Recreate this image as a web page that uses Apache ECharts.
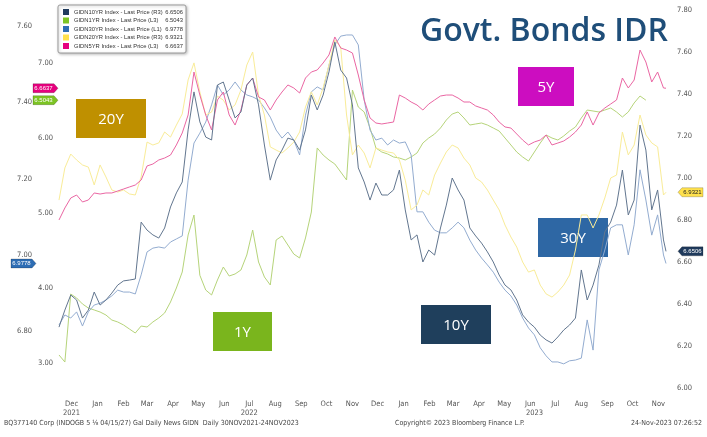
<!DOCTYPE html>
<html>
<head>
<meta charset="utf-8">
<script src="https://cdn.jsdelivr.net/npm/echarts@6/dist/echarts.min.js"></script>
<style>
  html, body { margin: 0; padding: 0; background: #fff; }
  #chart { width: 707px; height: 437px; }
</style>
</head>
<body>
<div id="chart"></div>
<script>
// weekly closes, 30 Nov 2021 -> 24 Nov 2023
const startDate = Date.UTC(2021, 10, 30);
const endDate = Date.UTC(2023, 10, 24);
const dates = [];
for (let i = 0; i < 104; i++) dates.push(startDate + i * 7 * 86400000);
dates.push(endDate);

const gidn10 = [6.290, 6.371, 6.443, 6.419, 6.333, 6.371, 6.457, 6.395, 6.419, 6.452,
  6.490, 6.510, 6.514, 6.519, 6.790, 6.752, 6.729, 6.714, 6.762, 6.862,
  6.929, 6.981, 7.229, 7.410, 7.267, 7.195, 7.181, 7.443, 7.457, 7.371,
  7.286, 7.314, 7.443, 7.476, 7.348, 7.157, 6.990, 7.086, 7.133, 7.190,
  7.181, 7.133, 7.229, 7.395, 7.324, 7.395, 7.505, 7.648, 7.514, 7.476,
  7.348, 7.048, 6.981, 6.895, 6.976, 6.919, 6.919, 6.943, 7.038, 6.848,
  6.705, 6.729, 6.600, 6.657, 6.633, 6.762, 6.871, 7.000, 6.943, 6.895,
  6.762, 6.724, 6.690, 6.648, 6.600, 6.538, 6.490, 6.467, 6.419, 6.348,
  6.314, 6.290, 6.252, 6.229, 6.214, 6.243, 6.276, 6.300, 6.333, 6.562,
  6.419, 6.490, 6.586, 6.743, 6.790, 6.871, 7.038, 6.824, 6.895, 7.252,
  7.133, 6.848, 6.943, 6.705, 6.6506];

const gidn1 = [3.107, 3.013, 3.920, 3.867, 3.787, 3.733, 3.707, 3.680, 3.640, 3.573,
  3.547, 3.507, 3.453, 3.400, 3.493, 3.480, 3.547, 3.600, 3.667, 3.813,
  4.000, 4.213, 4.707, 4.973, 4.170, 3.973, 3.907, 4.107, 4.280, 4.160,
  4.187, 4.240, 4.440, 4.773, 4.347, 4.147, 4.040, 4.640, 4.693, 4.573,
  4.453, 4.400, 4.667, 5.013, 5.867, 5.773, 5.707, 5.653, 5.547, 5.440,
  6.640, 6.413, 6.347, 6.133, 5.867, 5.813, 5.787, 5.747, 5.733, 5.707,
  5.747, 5.800, 5.933, 6.000, 6.053, 6.133, 6.240, 6.320, 6.347, 6.267,
  6.173, 6.187, 6.200, 6.173, 6.133, 6.093, 6.000, 5.907, 5.813, 5.747,
  5.693, 5.813, 5.933, 6.040, 6.000, 5.973, 6.027, 6.093, 6.147, 6.267,
  6.373, 6.360, 6.347, 6.373, 6.400, 6.347, 6.280, 6.347, 6.467, 6.560,
  6.5043, null, null, null, null];

const gidn30 = [6.817, 6.843, 6.835, 6.851, 6.814, 6.851, 6.869, 6.874, 6.882, 6.893,
  6.908, 6.903, 6.903, 6.898, 6.948, 7.008, 7.018, 7.021, 7.018, 7.034,
  7.042, 7.050, 7.196, 7.293, 7.319, 7.348, 7.393, 7.445, 7.419, 7.432,
  7.453, 7.432, 7.419, 7.414, 7.406, 7.385, 7.361, 7.327, 7.306, 7.322,
  7.301, 7.262, 7.366, 7.427, 7.440, 7.432, 7.497, 7.550, 7.573, 7.576,
  7.576, 7.550, 7.406, 7.327, 7.301, 7.306, 7.288, 7.301, 7.293, 7.296,
  7.262, 7.113, 7.113, 7.086, 7.065, 7.058, 7.058, 7.071, 7.086, 7.071,
  7.039, 7.013, 6.992, 6.974, 6.955, 6.929, 6.908, 6.893, 6.869, 6.835,
  6.809, 6.791, 6.757, 6.736, 6.720, 6.720, 6.715, 6.723, 6.725, 6.730,
  6.830, 6.751, 6.961, 7.013, 7.071, 7.079, 7.079, 7.000, 7.079, 7.223,
  7.144, 7.052, 7.105, 7.000, 6.9778];

const gidn20 = [6.895, 7.048, 7.114, 7.086, 7.062, 7.052, 6.967, 7.062, 7.005, 6.943,
  6.933, 6.943, 6.924, 6.919, 7.005, 7.171, 7.157, 7.167, 7.219, 7.195,
  7.252, 7.305, 7.467, 7.548, 7.410, 7.300, 7.314, 7.390, 7.371, 7.324,
  7.348, 7.419, 7.538, 7.600, 7.395, 7.300, 7.148, 7.133, 7.119, 7.143,
  7.171, 7.219, 7.338, 7.410, 7.348, 7.429, 7.538, 7.657, 7.624, 7.300,
  7.110, 7.157, 7.119, 7.048, 7.143, 7.133, 7.124, 7.119, 7.086, 6.990,
  6.848, 6.871, 6.943, 6.919, 7.014, 7.071, 7.124, 7.157, 7.143, 7.095,
  7.062, 7.000, 6.981, 6.943, 6.895, 6.848, 6.776, 6.719, 6.671, 6.600,
  6.552, 6.562, 6.490, 6.448, 6.433, 6.457, 6.490, 6.538, 6.657, 6.824,
  6.824, 6.762, 6.824, 6.905, 7.000, 7.014, 7.219, 7.110, 7.157, 7.300,
  7.205, 7.167, 7.148, 6.919, 6.9321];

const gidn5 = [4.907, 5.067, 5.200, 5.240, 5.147, 5.173, 5.267, 5.253, 5.267, 5.267,
  5.293, 5.320, 5.347, 5.373, 5.440, 5.627, 5.653, 5.707, 5.733, 5.773,
  5.907, 6.067, 6.307, 6.880, 6.573, 6.307, 6.107, 6.507, 6.613, 6.307,
  6.173, 6.373, 6.707, 6.800, 6.547, 6.507, 6.373, 6.507, 6.613, 6.707,
  6.667, 6.600, 6.800, 6.880, 6.907, 7.000, 7.107, 7.347, 7.200, 7.173,
  7.133, 6.840, 6.507, 6.267, 6.200, 6.187, 6.200, 6.213, 6.573, 6.533,
  6.480, 6.440, 6.373, 6.453, 6.507, 6.560, 6.573, 6.573, 6.533, 6.480,
  6.480, 6.427, 6.400, 6.373, 6.307, 6.213, 6.147, 6.133, 6.053, 5.973,
  5.907, 5.947, 5.973, 6.040, 5.907, 5.933, 5.960, 6.013, 6.080, 6.173,
  6.347, 6.173, 6.333, 6.400, 6.453, 6.507, 6.800, 6.667, 6.773, 7.173,
  7.013, 6.747, 6.880, 6.667, 6.6637];

const seriesNames = [
  'GIDN10YR Index - Last Price (R3)',
  'GIDN1YR Index - Last Price (L3)',
  'GIDN30YR Index - Last Price (L1)',
  'GIDN20YR Index - Last Price (R3)',
  'GIDN5YR Index - Last Price (L3)'
];
const lastPrices = ['6.6506', '6.5043', '6.9778', '6.9321', '6.6637'];

// axis label values
const l1Ticks = [6.8, 7.0, 7.2, 7.4, 7.6];
const l3Ticks = [3, 4, 5, 6, 7];
const monthTicks = [
  [2021, 11], [2022, 0], [2022, 1], [2022, 2], [2022, 3], [2022, 4], [2022, 5], [2022, 6],
  [2022, 7], [2022, 8], [2022, 9], [2022, 10], [2022, 11], [2023, 0], [2023, 1], [2023, 2],
  [2023, 3], [2023, 4], [2023, 5], [2023, 6], [2023, 7], [2023, 8], [2023, 9], [2023, 10]
].map(function (p) { return Date.UTC(p[0], p[1], 15); });
const monthLabels = ['Dec\n2021', 'Jan', 'Feb', 'Mar', 'Apr', 'May', 'Jun', 'Jul\n2022',
  'Aug', 'Sep', 'Oct', 'Nov', 'Dec', 'Jan', 'Feb', 'Mar',
  'Apr', 'May', 'Jun\n    2023', 'Jul', 'Aug', 'Sep', 'Oct', 'Nov'];

const smallFont = "'DejaVu Sans Condensed', 'Liberation Sans', sans-serif";
const legendFont = "'Liberation Sans', sans-serif";

function pairs(vals) {
  return vals.map(function (v, i) { return [dates[i], v]; });
}

// line colour, legend colour, y axis, tag side, tag text colour
const looks = [
  { line: '#62768f', box: '#1f3a5c', axis: 2, side: 'right', off: 24.5, txt: '#fff' },
  { line: '#b6d47a', box: '#7cc423', axis: 1, side: 'left', off: -13.5, txt: '#fff' },
  { line: '#93acd0', box: '#2e6db4', axis: 0, side: 'left', off: -35.5, txt: '#fff' },
  { line: '#f9ec98', box: '#ffe14d', axis: 2, side: 'right', off: 24.5, txt: '#222' },
  { line: '#ea66a3', box: '#e6007e', axis: 1, side: 'left', off: -13.5, txt: '#fff' }
];
const seriesData = [gidn10, gidn1, gidn30, gidn20, gidn5];

const tagLeft = 'path://M0,0H21L25,4.5L21,9H0Z';
const tagRight = 'path://M4,0H25V9H4L0,4.5Z';

const series = seriesData.map(function (vals, i) {
  const lk = looks[i];
  const lastVal = parseFloat(lastPrices[i]);
  const isLeft = lk.side === 'left';
  return {
    name: seriesNames[i],
    type: 'line',
    yAxisIndex: lk.axis,
    data: pairs(vals),
    symbol: 'none',
    connectNulls: false,
    clip: false,
    z: 2 + (i === 0 ? 3 : 0),
    lineStyle: { width: 1, color: lk.line },
    itemStyle: { color: lk.box },
    markPoint: {
      symbol: isLeft ? tagLeft : tagRight,
      symbolSize: [25, 9],
      symbolOffset: [lk.off, 0],
      itemStyle: { color: lk.box, borderColor: 'rgba(0,0,0,0.35)', borderWidth: 0.5 },
      label: {
        show: true, position: 'inside', color: lk.txt,
        fontSize: 6, fontFamily: legendFont,
        offset: [isLeft ? -2 : 2, 0],
        formatter: function () { return lastPrices[i]; }
      },
      data: [{ coord: [isLeft ? startDate : endDate, lastVal] }]
    }
  };
});

const labelBoxes = [
  { text: '20Y', x: 76, y: 99, w: 70, h: 39, color: '#bf9000' },
  { text: '5Y', x: 518, y: 67, w: 56, h: 39, color: '#cc0dc0' },
  { text: '1Y', x: 213, y: 312, w: 59, h: 39, color: '#7ab51d' },
  { text: '10Y', x: 421, y: 305, w: 70, h: 39, color: '#1f3f5c' },
  { text: '30Y', x: 538, y: 218, w: 70, h: 39, color: '#2e67a4' }
];

const graphics = [];
labelBoxes.forEach(function (b) {
  graphics.push({
    type: 'group', z: 100,
    children: [
      { type: 'rect', shape: { x: b.x, y: b.y, width: b.w, height: b.h }, style: { fill: b.color } },
      { type: 'text', style: { text: b.text, x: b.x + b.w / 2, y: b.y + b.h / 2 + 1, align: 'center', verticalAlign: 'middle',
          fill: '#fff', font: "15px 'Open Sans', 'Noto Sans', sans-serif" } }
    ]
  });
});
graphics.push({
  type: 'text', z: 100,
  style: { text: 'Govt. Bonds IDR', x: 420, y: 32, verticalAlign: 'middle', fill: '#1f4e79',
    font: "600 32px 'Open Sans', 'Noto Sans', sans-serif" }
});
graphics.push({
  type: 'text', z: 100,
  style: { text: 'BQ377140 Corp (INDOGB 5 \u215B 04/15/27) Gal Daily News GIDN  Daily 30NOV2021-24NOV2023',
    x: 4, y: 423, verticalAlign: 'middle', fill: '#444', font: '7px ' + smallFont }
});
graphics.push({
  type: 'text', z: 100,
  style: { text: 'Copyright\u00A9 2023 Bloomberg Finance L.P.', x: 395, y: 423, verticalAlign: 'middle',
    fill: '#444', font: '7px ' + smallFont }
});
graphics.push({
  type: 'text', z: 100,
  style: { text: '24-Nov-2023 07:26:52', x: 702, y: 423, align: 'right', verticalAlign: 'middle',
    fill: '#444', font: '7px ' + smallFont }
});

const axisLabelBase = { fontSize: 7.5, color: '#555', fontFamily: smallFont };

const chart = echarts.init(document.getElementById('chart'), null, { renderer: 'canvas' });
chart.setOption({
  animation: false,
  backgroundColor: '#fff',
  grid: { left: 59, right: 41, top: 10, bottom: 49 },
  legend: {
    orient: 'vertical', left: 58, top: 5,
    icon: 'rect', itemWidth: 6, itemHeight: 6, itemGap: 2.5,
    padding: [4, 3, 4, 5],
    backgroundColor: '#fff', borderColor: '#9a9a9a', borderWidth: 1, borderRadius: 2,
    shadowColor: 'rgba(0,0,0,0.25)', shadowBlur: 3, shadowOffsetX: 1, shadowOffsetY: 1,
    selectedMode: false,
    data: seriesNames.map(function (n, i) { return { name: n, itemStyle: { color: looks[i].box } }; }),
    formatter: function (name) {
      return '{n|' + name + '}{v|' + lastPrices[seriesNames.indexOf(name)] + '}';
    },
    textStyle: {
      fontFamily: legendFont, fontSize: 5.8, color: '#333',
      rich: {
        n: { width: 93, fontSize: 5.8, fontFamily: legendFont, color: '#333' },
        v: { width: 16, align: 'right', fontSize: 5.8, fontFamily: legendFont, color: '#333' }
      }
    }
  },
  xAxis: {
    type: 'value', min: startDate, max: endDate,
    axisLine: { show: false }, axisTick: { show: false }, splitLine: { show: false },
    axisLabel: Object.assign({}, axisLabelBase, {
      margin: 12, lineHeight: 9, hideOverlap: false,
      customValues: monthTicks,
      formatter: function (val) {
        const k = monthTicks.indexOf(val);
        return k >= 0 ? monthLabels[k] : '';
      }
    })
  },
  yAxis: [
    { // L1
      type: 'value', position: 'left', min: 6.6518, max: 7.6414,
      axisLine: { show: false }, axisTick: { show: false }, splitLine: { show: false },
      axisLabel: Object.assign({}, axisLabelBase, { margin: 27, customValues: l1Ticks,
        formatter: function (v) { return v.toFixed(2); } })
    },
    { // L3
      type: 'value', position: 'left', min: 2.6667, max: 7.7067,
      axisLine: { show: false }, axisTick: { show: false }, splitLine: { show: false },
      axisLabel: Object.assign({}, axisLabelBase, { margin: 6, customValues: l3Ticks,
        formatter: function (v) { return v.toFixed(2); } })
    },
    { // R3
      type: 'value', position: 'right', min: 6.0, max: 7.8, interval: 0.2,
      axisLine: { show: false }, axisTick: { show: false }, splitLine: { show: false },
      axisLabel: Object.assign({}, axisLabelBase, { margin: 11,
        formatter: function (v) { return v.toFixed(2); } })
    }
  ],
  series: series,
  graphic: graphics
});
</script>
</body>
</html>
